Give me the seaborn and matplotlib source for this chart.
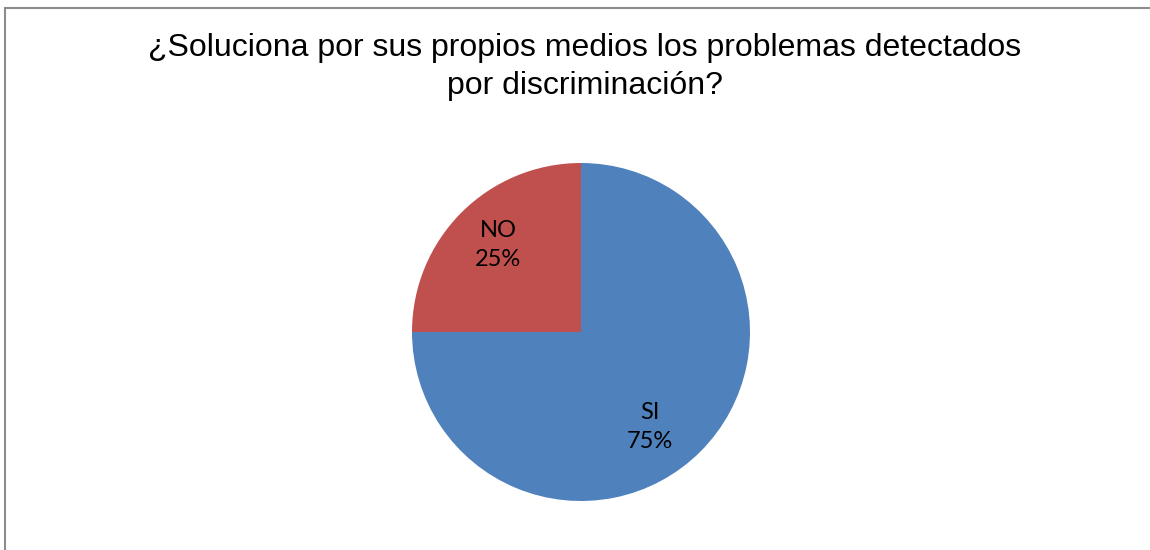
import matplotlib
matplotlib.use("Agg")
import matplotlib.pyplot as plt
import seaborn as sns
import numpy as np
from matplotlib.patches import Rectangle

categories = ["SI", "NO"]
values = [75, 25]
colors = ["#4F81BD", "#C0504D"]
title = "¿Soluciona por sus propios medios los problemas detectados\npor discriminación?"

# small style nudges for label placement (pixels), Excel-like
label_nudge = [(-16, -10), (2, 2)]

sns.set_theme(style="white")
plt.rcParams['font.family'] = ['Liberation Sans', 'DejaVu Sans']

W, H = 1150, 550
fig = plt.figure(figsize=(W / 100, H / 100), dpi=100)
fig.patch.set_facecolor("white")

# chart border (partially cropped at right/bottom)
fig.add_artist(Rectangle((5 / W, -0.1), 1.2, (H - 8) / H + 0.1, transform=fig.transFigure,
                         fill=False, edgecolor="#8c8c8c", linewidth=1.5))

cx, cy, r = 581, 332, 169
ax = fig.add_axes([(cx - r) / W, (H - cy - r) / H, 2 * r / W, 2 * r / H])

wedges, texts = ax.pie(values, colors=colors, startangle=90, counterclock=False,
                       radius=1, wedgeprops=dict(linewidth=0))
ax.set_xlim(-1, 1)
ax.set_ylim(-1, 1)
ax.set_aspect("equal")
ax.axis("off")

total = sum(values)
start = 90
for (c, v), (nx, ny) in zip(zip(categories, values), label_nudge):
    ang = np.deg2rad(start - 360 * v / total / 2)
    start -= 360 * v / total
    x = 0.71 * np.cos(ang) + nx / r
    y = 0.71 * np.sin(ang) + ny / r
    ax.text(x, y, f"{c}\n{v}%", ha="center", va="center",
            fontsize=17, family=["Lato", "DejaVu Sans"], color="black", linespacing=1.5)

fig.text(585 / W, 1 - 67 / H, title, ha="center", va="center", fontsize=23,
         color="black", linespacing=1.33)

fig.savefig("out.png", dpi=100, facecolor="white")
